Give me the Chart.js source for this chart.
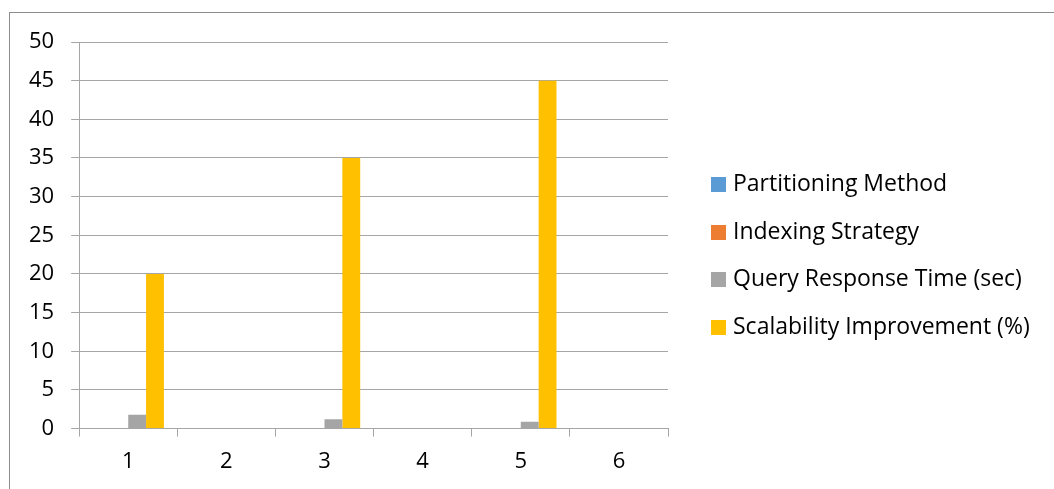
<!DOCTYPE html>
<html lang="en">
<head>
    <meta charset="UTF-8">
    <title>Partitioning chart</title>
    <style>
        body {
            margin: 0;
            padding: 0;
            background: #fff;
            font-family: "Open Sans", sans-serif;
        }

        .frame {
            position: absolute;
            left: 9px;
            top: 12px;
            width: 1060px;
            height: 500px;
            border: 1px solid #8c8c8c;
        }

        .wrap {
            position: absolute;
            left: 0;
            top: 0;
            width: 1054px;
            height: 489px;
        }

        #legend {
            position: absolute;
            left: 711px;
            top: 167px;
            margin: 0;
            padding: 0;
            list-style: none;
        }

        #legend li {
            height: 47.7px;
            line-height: 30px;
            font-size: 23px;
            color: #000;
            white-space: nowrap;
        }

        #legend span {
            display: inline-block;
            width: 15px;
            height: 15px;
            margin-right: 7px;
            vertical-align: -1px;
        }
    </style>
</head>
<body>
    <div class="frame"></div>
    <div class="wrap">
        <canvas id="myChart" width="1054" height="489"></canvas>
    </div>
    <ul id="legend"></ul>

    <script src="https://cdn.jsdelivr.net/npm/chart.js"></script>
    <script>
        var categories = ['1', '2', '3', '4', '5', '6'];
        var partitioning = [0, 0, 0, 0, 0, 0];
        var indexing = [0, 0, 0, 0, 0, 0];
        var queryTime = [1.8, 0, 1.2, 0, 0.9, 0];
        var scalability = [20, 0, 35, 0, 45, 0];
        var seriesNames = ['Partitioning Method', 'Indexing Strategy', 'Query Response Time (sec)', 'Scalability Improvement (%)'];
        var colors = ['#5b9bd5', '#ed7d31', '#a5a5a5', '#ffc000'];

        var values = [partitioning, indexing, queryTime, scalability];
        var datasets = values.map(function (v, i) {
            return {
                label: seriesNames[i],
                data: v,
                backgroundColor: colors[i],
                borderWidth: 0,
                categoryPercentage: 4 / 5.5,
                barPercentage: 1
            };
        });

        // legend as html, built from the same series
        var legend = document.getElementById('legend');
        seriesNames.forEach(function (name, i) {
            var li = document.createElement('li');
            li.innerHTML = '<span style="background:' + colors[i] + '"></span>' + name;
            legend.appendChild(li);
        });

        var ctx = document.getElementById('myChart').getContext('2d');
        var myChart = new Chart(ctx, {
            type: 'bar',
            data: {
                labels: categories,
                datasets: datasets
            },
            options: {
                responsive: false,
                animation: false,
                layout: {
                    padding: { left: 12, top: 42, right: 386, bottom: 2 }
                },
                plugins: {
                    tooltip: { enabled: false },
                    legend: { display: false }
                },
                scales: {
                    x: {
                        grid: {
                            offset: true,
                            drawOnChartArea: false,
                            drawTicks: true,
                            tickLength: 8,
                            color: '#a6a6a6'
                        },
                        border: { color: '#a6a6a6', width: 1 },
                        ticks: {
                            color: '#000',
                            padding: 12,
                            font: { family: 'Open Sans', size: 22 }
                        }
                    },
                    y: {
                        min: 0,
                        max: 50,
                        ticks: {
                            stepSize: 5,
                            color: '#000',
                            padding: 17,
                            font: { family: 'Open Sans', size: 22 }
                        },
                        grid: {
                            color: '#a6a6a6',
                            tickLength: 8
                        },
                        border: { color: '#a6a6a6', width: 1 }
                    }
                }
            }
        });
    </script>
</body>
</html>
